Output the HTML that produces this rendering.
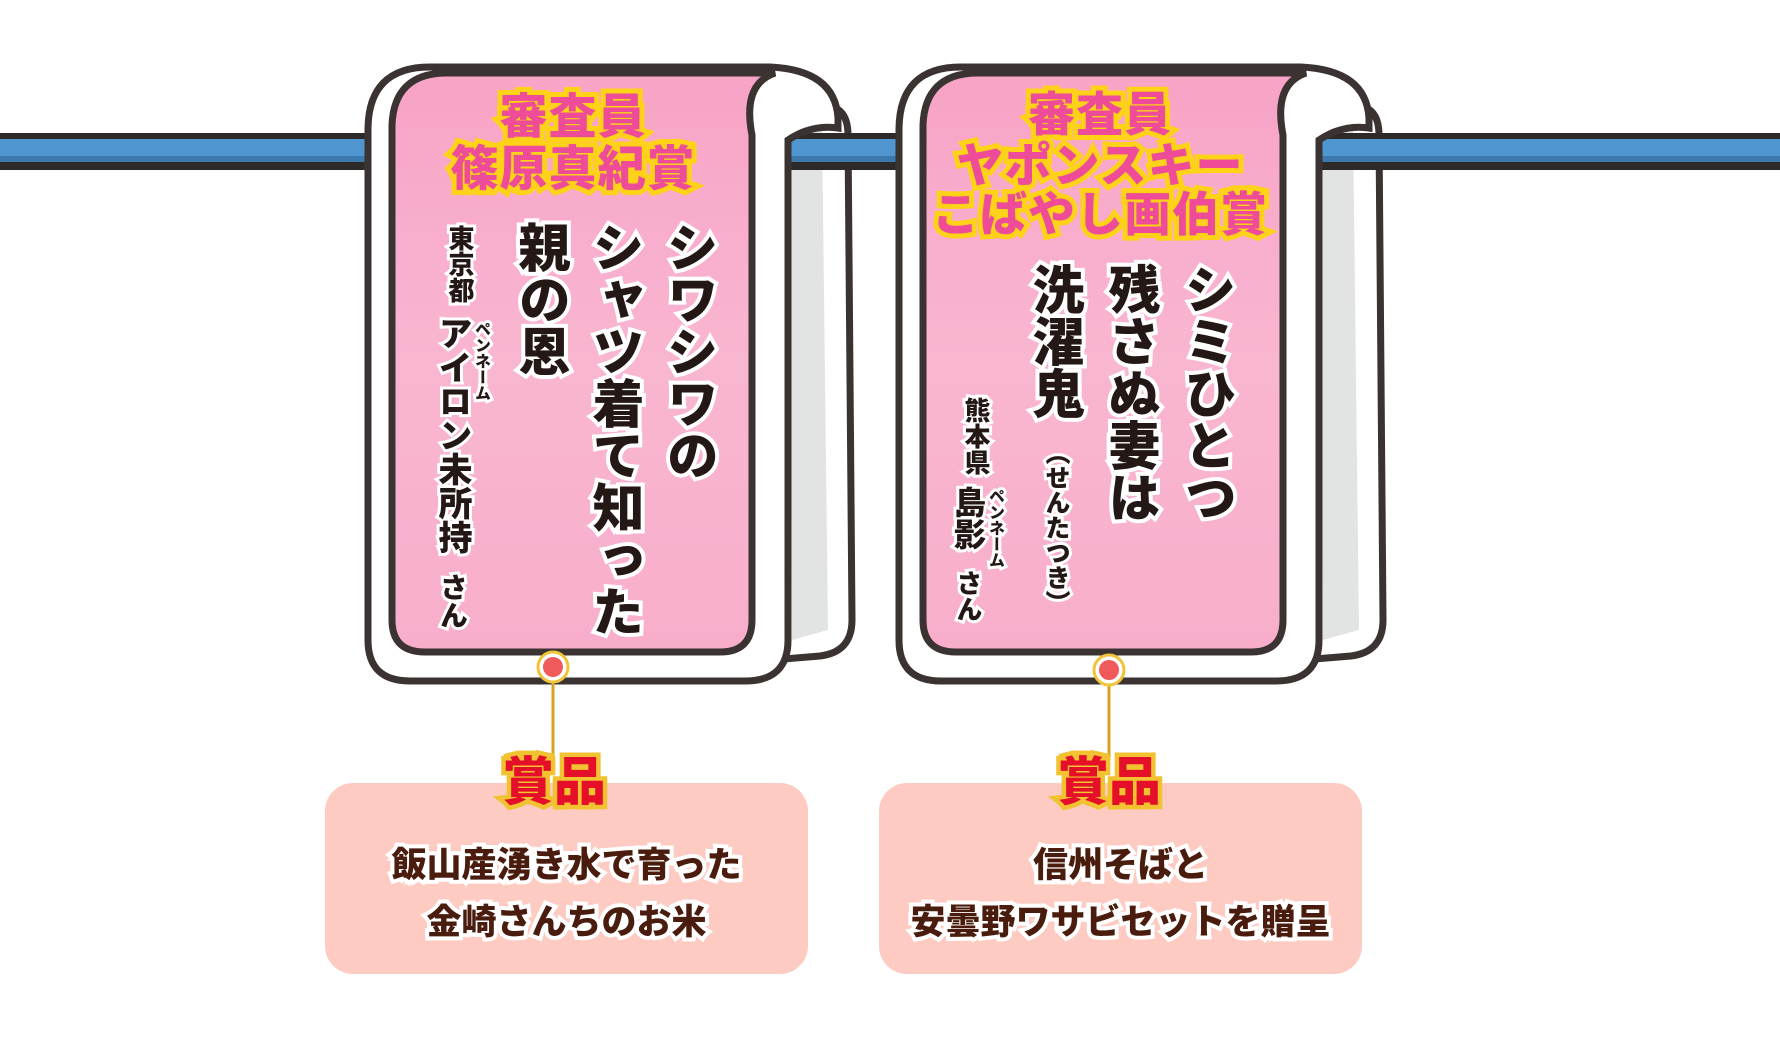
<!DOCTYPE html>
<html><head><meta charset="utf-8"><style>
html,body{margin:0;padding:0;background:#fff;}
#c{position:relative;width:1780px;height:1057px;overflow:hidden;font-family:"Liberation Sans","Noto Sans CJK JP",sans-serif;}
svg{position:absolute;left:0;top:0;}
.v{position:absolute;writing-mode:vertical-rl;font-weight:900;line-height:1;white-space:nowrap;paint-order:stroke fill;}
.poem{color:#231815;-webkit-text-stroke:8px #fff;}
.sm{color:#231815;-webkit-text-stroke:6px #fff;}
.h{position:absolute;font-weight:900;line-height:1;white-space:nowrap;paint-order:stroke fill;text-align:center;}
.ttl{color:#ee4b98;-webkit-text-stroke:10px #ffd21a;letter-spacing:1px;}
.prize{color:#e60f2a;-webkit-text-stroke:9px #f2c230;}
.pt{color:#4a1c0e;-webkit-text-stroke:8px #fff;font-size:35px;}
</style></head><body><div id="c">
<svg width="1780" height="1057" viewBox="0 0 1780 1057">
<defs>
<linearGradient id="pk" x1="0" y1="0" x2="0" y2="1"><stop offset="0" stop-color="#f7a3c6"/><stop offset="0.5" stop-color="#f9b6d1"/><stop offset="1" stop-color="#f8aecb"/></linearGradient>
<g id="flap">
<path d="M772 118 Q790 104 830 106 Q848 110 848 135 L852 620 Q852 652 820 656 L772 660 Z" fill="#fff" stroke="#3b3331" stroke-width="7"/>
<path d="M790 125 L822 123 L828 630 L792 640 Z" fill="#e2e4e4"/>
</g>
<g id="front">
<path d="M368 130 Q368 67 430 67 L770 67 Q835 70 838 118 L838 128 Q812 124 788 140 L788 640 Q788 681 745 681 L410 681 Q368 681 368 640 Z" fill="#fff" stroke="#3b3331" stroke-width="7"/>
<path d="M392 125 Q394 74 445 73 L775 73 Q742 84 752 135 L752 620 Q752 652 720 652 L425 652 Q392 652 392 620 Z" fill="url(#pk)" stroke="#3b3331" stroke-width="7"/>
</g>
</defs>
<use href="#flap"/>
<use href="#flap" transform="translate(531,0)"/>
<!-- rope -->
<rect x="0" y="133" width="1780" height="37" fill="#2f2a2a"/>
<rect x="0" y="139" width="1780" height="17" fill="#4f95cf"/>
<rect x="0" y="156" width="1780" height="6" fill="#3a78ad"/>
<use href="#front"/>
<use href="#front" transform="translate(531,0)"/>
<line x1="553" y1="667" x2="553" y2="760" stroke="#d9a21e" stroke-width="3"/>
<circle cx="553" cy="667" r="15" fill="#fff" stroke="#f0c43a" stroke-width="3"/>
<circle cx="553" cy="667" r="10" fill="#f05a5a"/>
<rect x="325" y="783" width="483" height="191" rx="28" fill="#fdcbc2"/>
<line x1="1109" y1="670" x2="1109" y2="760" stroke="#d9a21e" stroke-width="3"/>
<circle cx="1109" cy="670" r="15" fill="#fff" stroke="#f0c43a" stroke-width="3"/>
<circle cx="1109" cy="670" r="10" fill="#f05a5a"/>
<rect x="879" y="783" width="483" height="191" rx="28" fill="#fdcbc2"/>
</svg>

<!-- towel 1 text -->
<div class="h ttl" style="left:423px;width:300px;top:94px;font-size:48px;">審査員</div>
<div class="h ttl" style="left:423px;width:300px;top:146px;font-size:48px;">篠原真紀賞</div>
<div class="v poem" style="left:661px;top:221px;font-size:52px;">シワシワの</div>
<div class="v poem" style="left:587px;top:221px;font-size:52px;">シャツ着て知った</div>
<div class="v poem" style="left:513px;top:221px;font-size:52px;">親の恩</div>
<div class="v sm" style="left:447px;top:225px;font-size:26px;">東京都</div>
<div class="v sm" style="left:472px;top:321px;font-size:16px;">ペンネーム</div>
<div class="v sm" style="left:435px;top:316px;font-size:34px;">アイロン未所持</div>
<div class="v sm" style="left:438px;top:573px;font-size:28px;">さん</div>

<!-- towel 2 text -->
<div class="h ttl" style="left:900px;width:400px;top:91px;font-size:47px;">審査員</div>
<div class="h ttl" style="left:900px;width:400px;top:142px;font-size:47px;">ヤポンスキー</div>
<div class="h ttl" style="left:900px;width:400px;top:191px;font-size:47px;">こばやし画伯賞</div>
<div class="v poem" style="left:1179px;top:263px;font-size:52px;">シミひとつ</div>
<div class="v poem" style="left:1103px;top:263px;font-size:52px;">残さぬ妻は</div>
<div class="v poem" style="left:1027px;top:263px;font-size:52px;">洗濯鬼</div>
<div class="v sm" style="left:1043px;top:440px;font-size:25px;">（せんたつき）</div>
<div class="v sm" style="left:963px;top:397px;font-size:26px;">熊本県</div>
<div class="v sm" style="left:986px;top:488px;font-size:16px;">ペンネーム</div>
<div class="v sm" style="left:952px;top:486px;font-size:32px;">島影</div>
<div class="v sm" style="left:955px;top:570px;font-size:26px;">さん</div>

<!-- prizes -->
<div class="h prize" style="left:454px;width:200px;top:757px;font-size:52px;">賞品</div>
<div class="h prize" style="left:1009px;width:200px;top:757px;font-size:52px;">賞品</div>
<div class="h pt" style="left:325px;width:483px;top:848px;">飯山産湧き水で育った</div>
<div class="h pt" style="left:325px;width:483px;top:905px;">金崎さんちのお米</div>
<div class="h pt" style="left:879px;width:483px;top:848px;">信州そばと</div>
<div class="h pt" style="left:879px;width:483px;top:905px;">安曇野ワサビセットを贈呈</div>
</div></body></html>
